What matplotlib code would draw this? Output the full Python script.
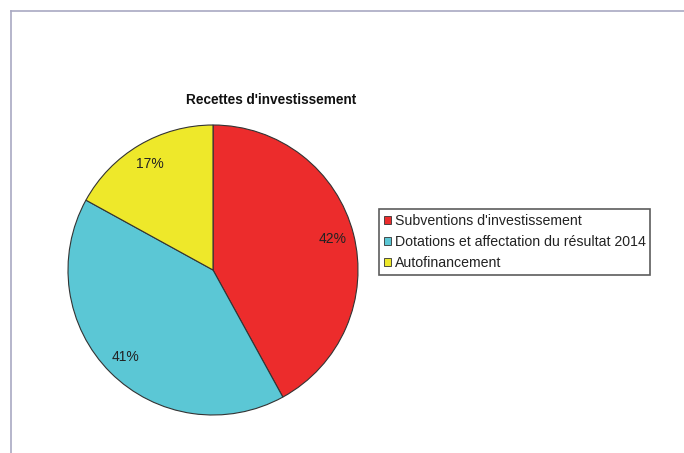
import matplotlib
matplotlib.use("Agg")
import matplotlib.pyplot as plt
from matplotlib.lines import Line2D
from matplotlib.patches import Patch

plt.rcParams['font.family'] = ['Liberation Sans', 'DejaVu Sans']

labels = ["Subventions d'investissement",
          "Dotations et affectation du résultat 2014",
          "Autofinancement"]
shares = [42, 41, 17]
colors = ['#ec2c2c', '#5bc7d5', '#eee82a']

W, H = 684, 453
fig = plt.figure(figsize=(W / 100, H / 100), dpi=100)
fig.patch.set_facecolor('white')

# thin frame lines at the top and left
fig.add_artist(Line2D([11 / W, 1], [1 - 10.5 / H, 1 - 10.5 / H],
                      color='#a9a9c2', lw=1.2, transform=fig.transFigure))
fig.add_artist(Line2D([11 / W, 11 / W], [0, 1 - 10.5 / H],
                      color='#a9a9c2', lw=1.2, transform=fig.transFigure))

# pie axes: centre (213, 270), radius 145 px
cx, cy, r = 213, 270, 145
ax = fig.add_axes([(cx - r) / W, (H - cy - r) / H, 2 * r / W, 2 * r / H])
wedges, texts, autotexts = ax.pie(
    shares, colors=colors, startangle=90, counterclock=False,
    autopct='%d%%', pctdistance=0.85,
    wedgeprops=dict(edgecolor='#333333', linewidth=0.8))
for w in wedges:
    w.set_clip_on(False)
for t in autotexts:
    t.set_fontsize(10)
    t.set_color('#222222')
ax.set_xlim(-1, 1)
ax.set_ylim(-1, 1)
ax.set_aspect('equal')

fig.text(271 / W, 1 - 100 / H, "Recettes d'investissement", ha='center',
         va='center', fontsize=9.8, fontweight='bold', color='#111111')

handles = [Patch(facecolor=c, edgecolor='#333333', linewidth=0.6) for c in colors]
leg = fig.legend(handles, labels, loc='upper left',
                 bbox_to_anchor=(379 / W, 1 - 209 / H), fontsize=10.2,
                 frameon=True, fancybox=False, handlelength=0.5,
                 handleheight=0.5, handletextpad=0.25, borderpad=0.35,
                 labelspacing=0.5, borderaxespad=0)
leg.get_frame().set_edgecolor('#333333')
leg.get_frame().set_linewidth(1.2)
for t in leg.get_texts():
    t.set_color('#222222')

fig.savefig('out.png', dpi=100)
